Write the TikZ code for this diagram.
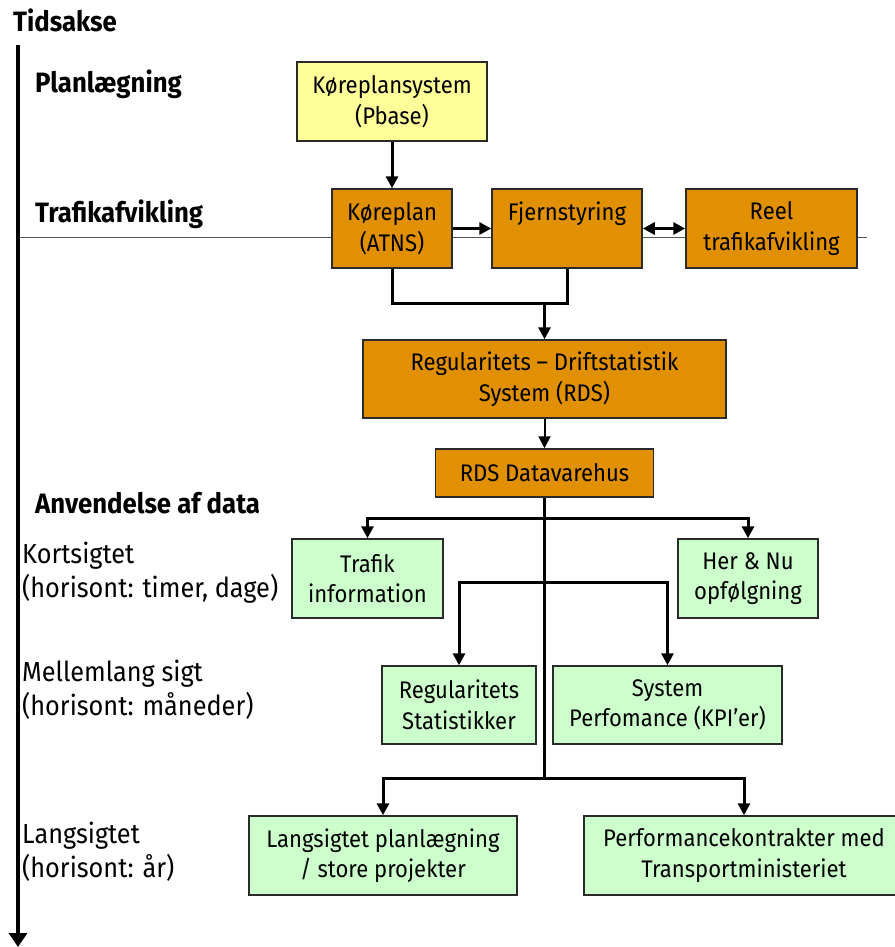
\documentclass[tikz,border=0pt]{standalone}
\usepackage{fontspec}
\setmainfont{Fira Sans}[FakeStretch=0.92]
\usetikzlibrary{arrows.meta}
\definecolor{yel}{HTML}{FFFF99}
\definecolor{ora}{HTML}{E09000}
\definecolor{grn}{HTML}{CCFFCC}
\definecolor{edgec}{HTML}{2A2A2A}
\definecolor{thinc}{HTML}{555555}
\begin{document}
\begin{tikzpicture}[x=1pt,y=-1pt,
  box/.style={draw=edgec,line width=1.5pt,align=center,inner sep=0pt,
    font=\fontsize{24}{30.5}\selectfont},
  ybox/.style={box,fill=yel},
  obox/.style={box,fill=ora},
  gbox/.style={box,fill=grn},
  head/.style={anchor=base west,inner sep=0pt,font=\fontsize{28}{32}\selectfont\bfseries},
  side/.style={anchor=base west,inner sep=0pt,align=left,font=\fontsize{27.5}{34}\selectfont},
  conn/.style={line width=3pt},
  arr/.style={line width=3pt,-{Triangle[length=12pt,width=12pt]}},
  tarr/.style={line width=2pt,-{Triangle[length=12pt,width=12pt]}},
  darr/.style={line width=3pt,{Triangle[length=12pt,width=12pt]}-{Triangle[length=12pt,width=12pt]}}]
\useasboundingbox (0,0) rectangle (894,947);
% time axis and thin line
\coordinate (tl) at (18,237);
\coordinate (tr) at (867,237);
\draw[thinc,line width=1pt] (tl) -- (tr);
\coordinate (ax1) at (18,45);
\coordinate (ax2) at (18,947);
\draw[line width=4pt,-{Triangle[length=14pt,width=18pt]}] (ax1) -- (ax2);
% headings
\node[head] (tids) at (13,32) {Tidsakse};
\node[head] (plan) at (35,93) {Planlægning};
\node[head] (traf) at (35,222) {Trafikafvikling};
\node[head] (anv) at (35,513) {Anvendelse af data};
% side labels (base anchor = last line)
\node[side] (kort) at (22,597) {Kortsigtet\\(horisont: timer, dage)};
\node[side] (mell) at (22,715) {Mellemlang sigt\\(horisont: måneder)};
\node[side] (lngs) at (22,877) {Langsigtet\\(horisont: år)};
% boxes
\node[ybox,minimum width=190pt,minimum height=79pt] (kps) at (392,101.5) {Køreplansystem\\(Pbase)};
\node[obox,minimum width=120pt,minimum height=79pt] (kp) at (392,228.5) {Køreplan\\(ATNS)};
\node[obox,minimum width=150pt,minimum height=79pt] (fj) at (567,228.5) {Fjernstyring\\\phantom{(ATNS)}};
\node[obox,minimum width=171pt,minimum height=79pt] (reel) at (771.5,228.5) {Reel\\trafikafvikling};
\node[obox,minimum width=363pt,minimum height=78pt] (rds) at (544.5,379) {Regularitets – Driftstatistik\\System (RDS)};
\node[obox,minimum width=218pt,minimum height=48pt] (dw) at (544.5,473) {RDS Datavarehus};
\node[gbox,minimum width=151pt,minimum height=79pt] (trafik) at (367.5,578.5) {Trafik\\information};
\node[gbox,minimum width=140pt,minimum height=79pt] (hernu) at (748,578.5) {Her \& Nu\\opfølgning};
\node[gbox,minimum width=154pt,minimum height=78pt] (regs) at (459,705) {Regularitets\\Statistikker};
\node[gbox,minimum width=229pt,minimum height=78pt] (sysp) at (667.5,705) {System\\Perfomance (KPI’er)};
\node[gbox,minimum width=268pt,minimum height=79pt] (lang) at (383,855.5) {Langsigtet planlægning\\/ store projekter};
\node[gbox,minimum width=320pt,minimum height=79pt] (perf) at (744,855.5) {Performancekontrakter med\\Transportministeriet};
% connectors
\draw[arr] (kps.south) -- (kp.north);
\draw[arr] (kp.east) -- (fj.west);
\draw[darr] (fj.east) -- (reel.west);
\coordinate (j) at (544.5,303);
\draw[conn] (kp.south) |- (j) -| (fj.south);
\draw[arr] (j) -- (rds.north);
\draw[tarr] (rds.south) -- (dw.north);
\coordinate (b1) at (544.5,518);
\coordinate (b2) at (544.5,582);
\coordinate (b3) at (544.5,778);
\draw[conn] (dw.south) -- (b3);
\draw[arr] (b1) -| (trafik.north);
\draw[arr] (b1) -| (hernu.north);
\draw[arr] (b2) -| (regs.north);
\draw[arr] (b2) -| (sysp.north);
\draw[arr] (b3) -| (lang.north);
\draw[arr] (b3) -| (perf.north);
\end{tikzpicture}
\end{document}
